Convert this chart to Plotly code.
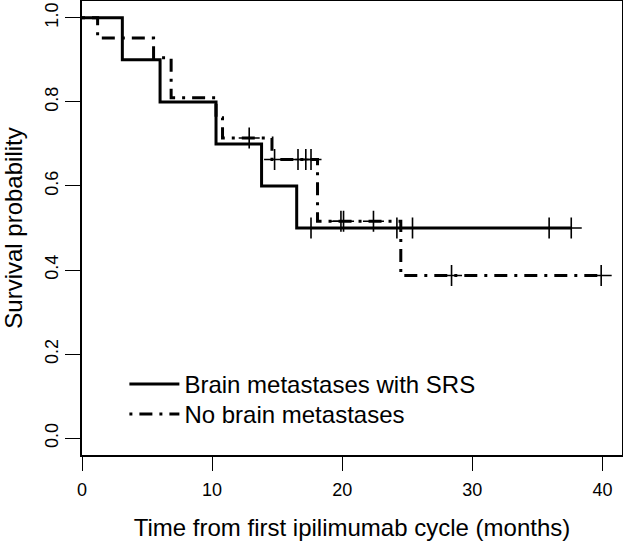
import plotly.graph_objects as go

# Brain metastases with SRS (solid)
srs_times = [0, 3.1, 6.0, 10.3, 13.8, 16.5, 37.6]
srs_surv = [1.0, 0.9, 0.8, 0.7, 0.6, 0.5, 0.5]
srs_cens_t = [17.6, 24.2, 25.4, 35.9, 37.6]
srs_cens_s = [0.5, 0.5, 0.5, 0.5, 0.5]

# No brain metastases (dot-dash)
nob_times = [0, 1.2, 5.5, 6.85, 10.3, 10.8, 14.6, 18.1, 24.5, 39.9]
nob_surv = [1.0, 0.952, 0.905, 0.810, 0.762, 0.714, 0.663, 0.516, 0.387, 0.387]
nob_cens_t = [12.85, 14.8, 16.6, 17.2, 17.6, 19.9, 20.1, 22.4, 28.4, 39.9]
nob_cens_s = [0.714, 0.663, 0.663, 0.663, 0.663, 0.516, 0.516, 0.516, 0.387, 0.387]

x_ticks = [0, 10, 20, 30, 40]
y_ticks = [0.0, 0.2, 0.4, 0.6, 0.8, 1.0]

FONT = "Liberation Sans, Arial, Helvetica, sans-serif"
DASH = "3px,7px,13px,7px"

fig = go.Figure()
fig.add_trace(go.Scatter(x=srs_times, y=srs_surv, mode="lines", line_shape="hv",
                         line=dict(color="black", width=3),
                         name="Brain metastases with SRS", legend="legend"))
fig.add_trace(go.Scatter(x=nob_times, y=nob_surv, mode="lines", line_shape="hv",
                         line=dict(color="black", width=3, dash=DASH),
                         name="No brain metastases", legend="legend2"))
fig.add_trace(go.Scatter(x=srs_cens_t, y=srs_cens_s, mode="markers", showlegend=False,
                         marker=dict(symbol="cross-thin", size=15, color="black",
                                     line=dict(color="black", width=1.6))))
fig.add_trace(go.Scatter(x=nob_cens_t, y=nob_cens_s, mode="markers", showlegend=False,
                         marker=dict(symbol="cross-thin", size=15, color="black",
                                     line=dict(color="black", width=1.6))))

leg_common = dict(xanchor="left", yanchor="top", font=dict(size=24),
                  bgcolor="rgba(0,0,0,0)", itemwidth=50)
fig.update_layout(
    width=623, height=541,
    margin=dict(l=82, r=1, t=1, b=86, pad=0),
    paper_bgcolor="white", plot_bgcolor="white",
    font=dict(family=FONT, color="black", size=18),
    legend=dict(x=0.0785, y=0.205, **leg_common),
    legend2=dict(x=0.0785, y=0.1388, **leg_common),
)
fig.update_xaxes(range=[0, 41.5], tickvals=x_ticks, ticks="outside", ticklen=14,
                 tickwidth=1.3, tickcolor="black", showline=True, linecolor="black",
                 linewidth=1.5, mirror=True, showgrid=False, zeroline=False,
                 automargin=False, tickfont=dict(size=18), ticklabelstandoff=4,
                 title=dict(text="Time from first ipilimumab cycle (months)",
                            font=dict(size=24), standoff=21))
fig.update_yaxes(range=[-0.04, 1.04], tickvals=y_ticks, tickformat=".1f",
                 ticks="outside", ticklen=15, tickwidth=1.3, tickcolor="black",
                 tickangle=-90, showline=True, linecolor="black", linewidth=1.5,
                 mirror=True, showgrid=False, zeroline=False, automargin=False,
                 tickfont=dict(size=18),
                 title=dict(text="Survival probability", font=dict(size=24), standoff=14))

fig.write_html("out.html", config={"displayModeBar": False},
               post_script="document.body.style.margin='0';")
